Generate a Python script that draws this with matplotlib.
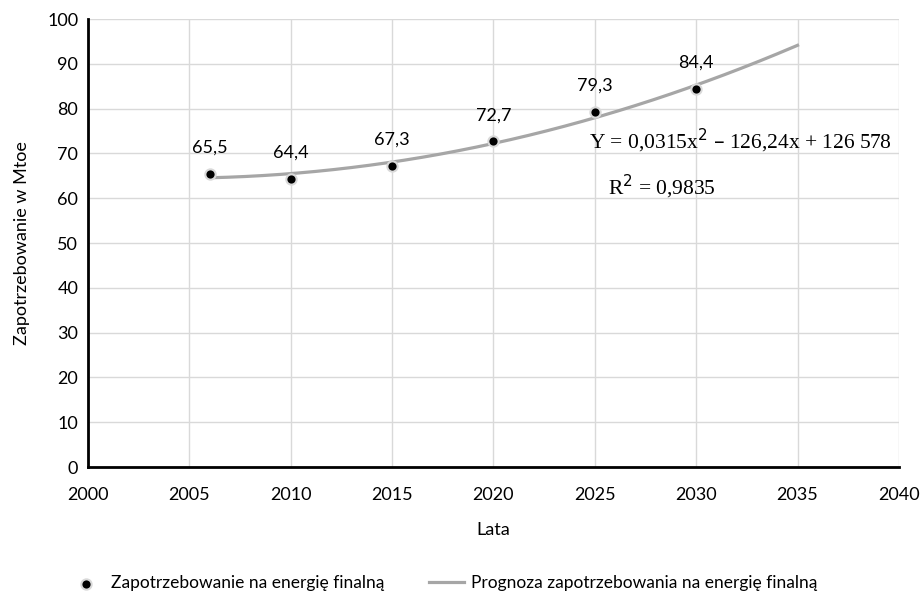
import numpy as np
import matplotlib
matplotlib.use("Agg")
import matplotlib.pyplot as plt

# Dane
lata = [2006, 2010, 2015, 2020, 2025, 2030]
zapotrzebowanie = [65.5, 64.4, 67.3, 72.7, 79.3, 84.4]
etykiety = ["65,5", "64,4", "67,3", "72,7", "79,3", "84,4"]
x_ticks = [2000, 2005, 2010, 2015, 2020, 2025, 2030, 2035, 2040]
y_ticks = [0, 10, 20, 30, 40, 50, 60, 70, 80, 90, 100]
prognoza_od, prognoza_do = 2006, 2035

plt.rcParams['font.family'] = ['Lato', 'DejaVu Sans']

fig = plt.figure(figsize=(9.21, 5.95), dpi=100)
ax = fig.add_axes([0.0955, 0.215, 0.8805, 0.753])

# Linia trendu (wielomian 2. stopnia, jak w Excelu)
wsp = np.polyfit(lata, zapotrzebowanie, 2)
xs = np.linspace(prognoza_od, prognoza_do, 200)
ax.plot(xs, np.polyval(wsp, xs), color='#a6a6a6', lw=2.3, zorder=3,
        label='Prognoza zapotrzebowania na energię finalną')

ax.scatter(lata, zapotrzebowanie, s=55, color='black', edgecolors='#d9d9d9',
           linewidths=1.5, zorder=4, label='Zapotrzebowanie na energię finalną')

for x, y, t in zip(lata, zapotrzebowanie, etykiety):
    ax.annotate(t, (x, y), xytext=(0, 18.7), textcoords='offset points',
                ha='center', va='center', fontsize=13)

ax.text(2032.16, 72.8, 'Y = 0,0315x$^2$ – 126,24x + 126 578', fontsize=15.5,
        family='Liberation Serif', ha='center', va='center')
ax.text(2028.3, 62.6, 'R$^2$ = 0,9835', fontsize=15.5,
        family='Liberation Serif', ha='center', va='center')

ax.set_xlim(2000, 2040)
ax.set_ylim(0, 100)
ax.set_xticks(x_ticks)
ax.set_yticks(y_ticks)
ax.tick_params(length=0, labelsize=13)
ax.tick_params(axis='x', pad=14)
ax.tick_params(axis='y', pad=7)
ax.grid(True, color='#d9d9d9', lw=1)
ax.set_axisbelow(True)
for s in ['top', 'right']:
    ax.spines[s].set_visible(False)
for s in ['left', 'bottom']:
    ax.spines[s].set_linewidth(2)
    ax.spines[s].set_color('black')

ax.set_xlabel('Lata', fontsize=13, va='center')
ax.set_ylabel('Zapotrzebowanie w Mtoe', fontsize=13, va='center')
ax.xaxis.set_label_coords(0.5, -0.1397)
ax.yaxis.set_label_coords(-0.0815, 0.5)

h, l = ax.get_legend_handles_labels()
fig.legend(h[::-1], l[::-1], loc='center left', bbox_to_anchor=(0.058, 0.02), ncol=2,
           frameon=False, fontsize=12.5, columnspacing=2.6, handlelength=2,
           handletextpad=0.4, scatterpoints=1)

fig.savefig('out.png', dpi=100)
